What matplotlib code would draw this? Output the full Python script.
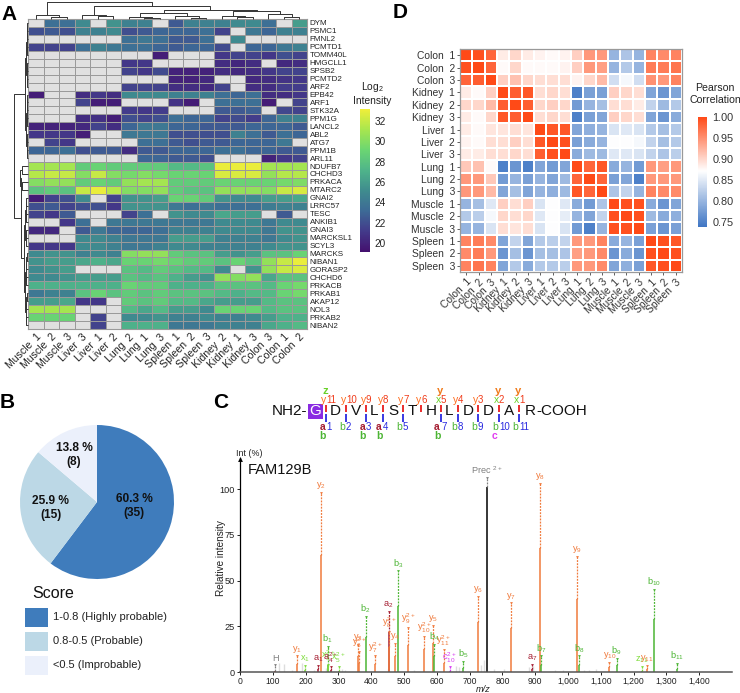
import numpy as np
import matplotlib
matplotlib.use('Agg')
import matplotlib.pyplot as plt
from matplotlib.colors import LinearSegmentedColormap, TwoSlopeNorm, Normalize
from matplotlib.patches import Rectangle
from matplotlib.cm import ScalarMappable

plt.rcParams['font.family'] = ['Liberation Sans', 'DejaVu Sans']
plt.rcParams['mathtext.default'] = 'regular'
plt.rcParams['mathtext.fontset'] = 'custom'
plt.rcParams['mathtext.rm'] = 'Liberation Sans'

W, H = 740, 693
n = np.nan

# panel A
a_cols = ['Muscle  1', 'Muscle  2', 'Muscle  3', 'Liver  3', 'Liver  1', 'Liver  2', 'Lung  2', 'Lung  1', 'Lung  3',
          'Spleen  1', 'Spleen  2', 'Spleen  3', 'Kidney  2', 'Kidney  1', 'Kidney  3', 'Colon  3', 'Colon  1', 'Colon  2']
a_rows = ['DYM', 'PSMC1', 'FMNL2', 'PCMTD1', 'TOMM40L', 'HMGCLL1', 'SPSB2', 'PCMTD2', 'ARF2', 'EPB42', 'ARF1', 'STK32A',
          'PPM1G', 'LANCL2', 'ABL2', 'ATG7', 'PPM1B', 'ARL11', 'NDUFB7', 'CHCHD3', 'PRKACA', 'MTARC2', 'GNAI2', 'LRRC57',
          'TESC', 'ANKIB1', 'GNAI3', 'MARCKSL1', 'SCYL3', 'MARCKS', 'NIBAN1', 'GORASP2', 'CHCHD6', 'PRKACB', 'PRKAB1',
          'AKAP12', 'NOL3', 'PRKAB2', 'NIBAN2']
a_vals = [
    [n, 23.5, 23.5, 25, n, 25.5, 24.5, 24.5, n, 22.5, 24.5, 24.5, 24.5, 25, 25, 23.5, n, 26],
    [22, 22.5, 22, 24.5, 24.5, 25, 22, 22.5, 23, 23, 23, 23.5, 21.5, n, 24, 23, 24.5, 24.5],
    [n, n, n, n, n, n, 23.5, 24, 23.5, 22.5, 22.5, 23.5, n, 25, n, n, n, n],
    [21.5, 21.5, 21.5, 23.5, 24.5, 24, 23.5, 23.5, 23, 22.5, 23, 23, 21.8, n, 23, 23, 24, 24.5],
    [n, n, n, n, n, n, n, n, 19.8, n, n, n, 21, 21.5, 21.5, 21, 22, 21.5],
    [n, n, n, n, n, n, 21, 21, n, n, n, n, 20.5, 20.2, 20.5, n, 20.3, 20.5],
    [n, n, n, n, n, n, 21.5, 21, 21.8, 20, 20, 20, 20.5, 20.3, 20.5, 21, 21.5, 21.5],
    [n, n, n, n, n, n, n, n, n, 20, 20, 20.3, n, n, 20.3, 20.5, 20.8, 21],
    [n, n, n, n, n, n, 21.5, 21.5, 21.5, 20.5, 20.5, 20.3, 21.5, n, 20.5, 20.5, 21.2, 21.2],
    [19.7, n, n, 20.5, 21, 20.5, 25, 25, 25, 24.5, 24.5, 24.5, 23.5, 23, 23.5, 20.5, 20.5, 21],
    [n, n, n, 21.5, 19.8, 19.8, n, n, n, 20.8, 19.7, n, 23.5, 23.5, 23.5, 19.7, n, 21.5],
    [n, n, n, n, n, n, 21.2, 21, 21.2, n, n, n, 22.5, 22.5, 22.8, n, 21.7, 21.5],
    [n, n, n, 20.5, 20.7, 19.8, 22, 21.5, 22, 23.5, 23, 23, 21.5, 21.8, 21.3, 23, 24.5, 24.5],
    [20, 20, 20, 20.3, 21.5, 20.5, 23, 24, 24, 23, 23, 22.5, 22.5, 22.5, 23, 23, 23, 22.5],
    [21, 21, 21, 19.8, n, n, 24, 24, 24, 22, 22, 22, 22, 24.5, 23.5, 22.5, 23.5, 23],
    [n, 21.5, 21, n, n, n, n, 23.5, 23.5, 22.5, 22, 22.5, 22.5, 23, 23, 23, 24, n],
    [23, 23, 23.5, 22, 22.5, 22.5, 20.5, 22.5, 22.5, 23, 23, 23, 23.5, 23.5, 23, 23, 22.5, 22.5],
    [n, n, n, n, n, n, n, 23, 23, 22.5, 22.5, 22, n, n, n, 20, 21, 21.5],
    [31, 31, 31, 28.5, 29, 28.5, 28.5, 28.5, 28.5, 27.5, 27.5, 28, 33, 33, 33, 31, 31, 31],
    [31.5, 32, 32, 30, 32, 30, 29.5, 30, 29.5, 29, 29, 29, 32.5, 32.5, 32.5, 30.5, 31.5, 31.5],
    [30, 30.5, 30.5, 28.5, 29, 28.5, 30.5, 31, 31, 28.5, 28.5, 28.5, 29, 29, 29, 29, 29.5, 29.8],
    [28, 28.5, 28, 32, 33, 31.5, 30, 30, 30.5, 28.5, 28, 28, 30.5, 30.5, 30.5, 30, 32, 32.5],
    [19.7, 21.5, 22, 25, n, 21.5, 25.5, 25.5, 26, 29, 29, 28.5, 25.5, 25, 25, 26, 26, 26.5],
    [22, 22.5, 21.5, 22, 22, 21, 25.5, 25.5, 25.5, 24, 23.5, 24, 23.5, 23.5, 23.5, 24.2, 24.5, 24.5],
    [21.5, 21, 22.5, n, n, n, 21.5, 23.5, n, 25.5, 25, 25, 26.5, 26, 26, n, 22.5, n],
    [n, n, 21, 23.5, n, 24, 24, 24, 24, 24, 24, 24, 25, 25, 25, 24, 25, 25],
    [20.3, 20.3, n, 22.5, 24, 23, 23, 23, 23.5, 24.5, 24.5, 24.5, 25, 25, 25, 24, 25.5, 25.5],
    [n, n, n, 25, 25, 24.5, 24, 24, 24, 26, 26, 26, 24.5, 24.5, 24.5, 24, 25, 25.5],
    [21, 21, 21, 25, 25, 24.5, 24, 24, 24.5, 25, 25, 24.5, 24.5, 24.5, 24.5, 25, 25.5, 25.5],
    [25, 25.5, 25.5, 24.5, 25, 24.5, 30, 30.5, 30.5, 28.5, 28, 28, 26, 25.5, 26, 28, 28, 29],
    [25.5, 26, 26, 26.5, 27, 26.5, 29, 29, 29.5, 29, 28.5, 28.5, 28, 29, 28, 30.5, 32, 33],
    [25, 25.5, 26, n, n, n, 28, 27.5, 28.5, 28, 27.5, 27.5, 25, n, 25.5, 30.5, 32, 32.5],
    [25, 25, 25.5, 26, 26, 26, 28, 27.5, 28, 27, 26, 25.5, 30.5, 30, 30.5, 26.5, 28, 28],
    [27, 27, 27, 27, 27, 27, 29, 28.5, 28.5, 27, 27, 27, 28, 28, 28, 27.5, 29, 29.5],
    [24, 24.5, 24.5, 28, 29, 28, 28.5, 28, 28.5, 28, 28, 28, 27.5, 27, 27.5, 27.5, 29, 29.5],
    [26, 26, 26.5, 21, 21, n, 28.5, 28, 28.5, 27.5, 27.5, 26.5, 26, 26, 26, 27.5, 28, 28],
    [31, 31, 31, n, n, n, 27.5, 26.5, 27.5, 26, 26, 25, 29, 29, 29, 27.5, 28, 28],
    [29, 29, 29, n, 21.5, n, 25, 25, 25.5, 24.5, 24.5, 25, 24.5, 24.5, 25, 26, 27, 27],
    [n, n, n, n, 21.5, n, 27, 27, 27, 24, 24, 24, 24.5, 24.5, 24.5, 26.5, 27, 27.5],
]
a_ticks = [20, 22, 24, 26, 28, 30, 32]
a_map_cols = ['#44106e', '#433a8a', '#3d6a96', '#3f8c8e', '#4fb48a', '#6bd672', '#a8e64e', '#f0ee3a']

# column tree of panel A: (merge height, left, right), leaves are column numbers
a_col_tree = (17.3,
              (4, 0, (2, 1, 2)),
              (13.5,
               (4, 3, (3, 4, 5)),
               (9.5,
                (6.5, (2.5, 6, (1.5, 7, 8)), (3, 9, (1.5, 10, 11))),
                (8.5, (3, 12, (1.8, 13, 14)), (5.5, 15, (2.5, 16, 17))))))

# panel B
b_vals = [60.3, 25.9, 13.8]
b_texts = ['60.3 %\n(35)', '25.9 %\n(15)', '13.8 %\n(8)']
b_cols = ['#3f7cbc', '#bcd8e6', '#ebf0fb']
b_legend = ['1-0.8 (Highly probable)', '0.8-0.5 (Probable)', '<0.5 (Improbable)']

# panel C
seq_letters = ['D', 'V', 'L', 'S', 'T', 'H', 'L', 'D', 'D', 'A', 'R']
peak_mz = [108, 174, 198, 239, 246, 267, 269, 276, 301, 359, 363, 383, 412, 453, 455, 474, 482, 513, 562, 587, 592, 621,
           639, 681, 725, 825, 754, 914, 918, 890, 1027, 1033, 1126, 1148, 1225, 1241, 1262, 1333]
peak_solid = [0.5, 4.5, 1, 1.5, 64, 4, 3, 1, 0.8, 9, 4.8, 19, 4.5, 22, 13.5, 9, 36, 15, 12.5, 16, 9, 5,
              0.5, 2, 27.5, 24, 101, 68, 4, 1.5, 40, 4, 2.5, 4, 0.8, 1.5, 29, 1.5]
peak_tip = [3.8, 8.5, 3.5, 3.3, 98, 13.5, 4, 3, 3, 15, 11, 30, 8.5, 33, 22, 15.5, 55, 24, 19, 25, 15, 12,
            3, 5.5, 41, 37.5, 106, 103, 8.5, 4, 63, 8.5, 5, 7, 3, 3.5, 45, 4.5]
peak_label = ['H', 'y$_{1}$', 'x$_{1}$', 'a$_{1}$', 'y$_{2}$', 'b$_{1}$', 'x$_{3}^{2+}$', 'a$_{4}^{2+}$', 'x$_{5}^{2+}$',
              'y$_{3}$', 'y$_{6}^{2+}$', 'b$_{2}$', 'y$_{7}^{2+}$', 'a$_{2}$', 'y$_{8}^{2+}$', 'y$_{4}$', 'b$_{3}$',
              'y$_{9}^{2+}$', 'y$_{10}^{2+}$', 'y$_{5}$', 'b$_{4}$', 'y$_{11}^{2+}$', 'c$_{10}^{2+}$', 'b$_{5}$',
              'y$_{6}$', 'y$_{7}$', 'Prec $^{2+}$', 'y$_{8}$', 'b$_{7}$', 'a$_{7}$', 'y$_{9}$', 'b$_{8}$', 'y$_{10}$',
              'b$_{9}$', 'z$_{11}$', 'y$_{11}$', 'b$_{10}$', 'b$_{11}$']
peak_kind = ['p', 'y', 'x', 'a', 'y', 'b', 'x', 'a', 'x', 'y', 'y', 'b', 'y', 'a', 'y', 'y', 'b', 'y', 'y', 'y', 'b', 'y',
             'c', 'b', 'y', 'y', 'p', 'y', 'b', 'a', 'y', 'b', 'y', 'b', 'x', 'y', 'b', 'b']
noise_mz = [120, 135, 160, 188, 197, 225, 262, 310, 320, 450, 530, 660, 668, 735, 745, 775, 805, 880, 892, 960, 985,
            1050, 1065, 1085]
noise_int = [5, 4.5, 1, 5, 2, 1, 2, 1.5, 1, 1.5, 1, 3.5, 3, 4, 6.5, 1.5, 1.5, 3, 3.5, 1, 1.2, 1, 1, 1.5]
c_xticks = list(range(0, 1500, 100))
c_yticks = [0, 25, 50, 75, 100]

# panel D
d_labels = ['Colon  1', 'Colon  2', 'Colon  3', 'Kidney  1', 'Kidney  2', 'Kidney  3', 'Liver  1', 'Liver  2', 'Liver  3',
            'Lung  1', 'Lung  2', 'Lung  3', 'Muscle  1', 'Muscle  2', 'Muscle  3', 'Spleen  1', 'Spleen  2', 'Spleen  3']
d_vals = [
    [1.0, .995, .98, .885, .90, .885, .88, .875, .88, .905, .945, .945, .80, .815, .80, .96, .955, .96],
    [.995, 1.0, .98, .875, .90, .875, .875, .875, .88, .905, .945, .94, .80, .82, .80, .965, .965, .97],
    [.98, .985, 1.0, .905, .915, .90, .895, .895, .895, .88, .90, .92, .84, .865, .84, .95, .945, .96],
    [.885, .875, .905, 1.0, .985, .99, .895, .90, .895, .75, .78, .78, .905, .90, .895, .785, .77, .785],
    [.90, .90, .92, .985, 1.0, .985, .90, .905, .90, .775, .80, .81, .895, .895, .885, .83, .805, .82],
    [.885, .875, .90, .99, .985, 1.0, .895, .90, .895, .75, .78, .785, .905, .90, .895, .785, .77, .79],
    [.885, .875, .89, .89, .895, .89, 1.0, .99, .99, .785, .795, .80, .845, .85, .845, .82, .81, .82],
    [.88, .875, .895, .895, .905, .895, .99, 1.0, .995, .78, .79, .80, .87, .87, .865, .83, .81, .82],
    [.885, .885, .895, .895, .90, .895, .985, .995, 1.0, .79, .805, .805, .85, .85, .845, .83, .815, .825],
    [.91, .915, .875, .75, .77, .75, .785, .775, .785, 1.0, .98, .99, .79, .80, .775, .945, .94, .945],
    [.945, .945, .91, .775, .80, .78, .80, .785, .805, .98, 1.0, .98, .78, .785, .75, .945, .945, .945],
    [.945, .945, .92, .785, .81, .785, .80, .795, .805, .99, .98, 1.0, .815, .83, .80, .96, .955, .955],
    [.80, .81, .85, .905, .895, .905, .845, .87, .85, .79, .775, .815, 1.0, .995, .995, .79, .77, .785],
    [.82, .825, .865, .90, .895, .90, .85, .87, .855, .80, .785, .83, .995, 1.0, .995, .805, .79, .795],
    [.80, .80, .845, .895, .89, .895, .845, .87, .845, .775, .75, .80, .995, .995, 1.0, .78, .77, .78],
    [.96, .965, .955, .785, .83, .785, .82, .825, .83, .945, .945, .96, .79, .80, .78, 1.0, .995, .99],
    [.955, .965, .945, .77, .81, .77, .81, .81, .815, .94, .945, .955, .77, .79, .77, .995, 1.0, .995],
    [.96, .97, .96, .785, .82, .79, .82, .82, .825, .945, .945, .955, .785, .795, .78, .99, .995, 1.0],
]
d_ticks = [0.75, 0.80, 0.85, 0.90, 0.95, 1.00]


def px_axes(fig, x0, y0, x1, y1):
    # rectangle given in image pixels, y going down
    return fig.add_axes([x0 / W, 1 - y1 / H, (x1 - x0) / W, (y1 - y0) / H])


def split_tree(lo, hi, h):
    if hi - lo == 1:
        return lo
    mid = (lo + hi + 1) // 2
    return (h, split_tree(lo, mid, h * 0.68), split_tree(mid, hi, h * 0.68))


def draw_tree(ax, node, pos0, step, base, horizontal=True):
    # returns centre position and height of the node
    if not isinstance(node, tuple):
        return pos0 + (node + 0.5) * step, 0
    h, left, right = node
    p1, h1 = draw_tree(ax, left, pos0, step, base, horizontal)
    p2, h2 = draw_tree(ax, right, pos0, step, base, horizontal)
    xs = [p1, p1, p2, p2]
    ys = [base - h1, base - h, base - h, base - h2]
    if horizontal:
        ax.plot(xs, ys, color='#333333', lw=0.7, solid_capstyle='butt')
    else:
        ax.plot(ys, xs, color='#333333', lw=0.7, solid_capstyle='butt')
    return (p1 + p2) / 2, h


fig = plt.figure(figsize=(W / 100, H / 100), dpi=100)

# --- A heatmap ---
ax = px_axes(fig, 28, 19, 307, 329)
vir = LinearSegmentedColormap.from_list('soft_viridis', a_map_cols)
vir.set_bad('#e0e0e0')
a_arr = np.ma.masked_invalid(np.array(a_vals))
a_norm = Normalize(19.1, 33.2)
ax.pcolormesh(a_arr, cmap=vir, norm=a_norm, edgecolors='#9a9a9a', linewidth=0.7)
ax.set_ylim(len(a_rows), 0)
ax.set_xticks(np.arange(len(a_cols)) + 0.5)
ax.set_xticklabels(a_cols, rotation=45, ha='right', va='top', rotation_mode='anchor', fontsize=7.6, color='#222222')
ax.yaxis.tick_right()
ax.set_yticks(np.arange(len(a_rows)) + 0.5)
ax.set_yticklabels(a_rows, fontsize=5.8, color='#222222')
ax.tick_params(length=0, pad=2)
for s in ax.spines.values():
    s.set_edgecolor('#9a9a9a')
    s.set_linewidth(0.8)

cax = px_axes(fig, 360, 109, 370, 252)
cb = fig.colorbar(ScalarMappable(norm=a_norm, cmap=vir), cax=cax, ticks=a_ticks)
cb.outline.set_visible(False)
cb.ax.tick_params(length=0, labelsize=7.2, pad=3, labelcolor='#222222')

# --- B pie ---
ax = px_axes(fig, 20, 425, 174, 579)
ax.pie(b_vals, colors=b_cols, startangle=90, counterclock=False, radius=1)
ax.set_xlim(-1, 1)
ax.set_ylim(-1, 1)

# --- C spectrum ---
ax = px_axes(fig, 240, 458, 732, 672)
kind_col = {'y': '#f07a3c', 'b': '#4cb534', 'x': '#7fdc3c', 'a': '#a51e32', 'c': '#d63cf0', 'p': '#808080'}
ax.vlines(noise_mz, 0, noise_int, color='#dddddd', lw=1)
for mz, solid, tip, lab, kind in zip(peak_mz, peak_solid, peak_tip, peak_label, peak_kind):
    col = kind_col[kind]
    solid_col = 'black' if lab.startswith('Prec') else ('#d01818' if lab == 'H' else col)
    ax.vlines(mz, 0, solid, color=solid_col, lw=1.1)
    ax.vlines(mz, solid, tip, color=col, lw=0.9, linestyles=(0, (1.5, 1)))
    ax.plot(mz, tip, marker='v', ms=2, color=col, mew=0)
    ax.text(mz, tip + 1, lab, color=col, ha='center', va='bottom', fontsize=6.6)
ax.set_xlim(0, 1500)
ax.set_ylim(0, 117)
ax.set_xticks(c_xticks)
ax.set_xticklabels([f'{v:,}' for v in c_xticks], fontsize=6.2, color='#222222')
ax.set_yticks(c_yticks)
ax.set_yticklabels([str(v) for v in c_yticks], fontsize=6.6, color='#222222')
ax.tick_params(length=2, width=0.6, pad=1.5)
ax.spines[['top', 'right']].set_visible(False)
ax.spines['left'].set_linewidth(0.9)
ax.spines['bottom'].set_linewidth(1.1)
ax.spines['bottom'].set_color('#555555')
ax.patch.set_alpha(0)

# --- D correlation ---
ax = px_axes(fig, 460, 49, 682, 272)
blue_red = LinearSegmentedColormap.from_list('br', ['#3f76c4', '#ffffff', '#ff4a17'])
d_norm = TwoSlopeNorm(vmin=0.739, vcenter=0.872, vmax=1.0)
ax.pcolormesh(np.array(d_vals), cmap=blue_red, norm=d_norm, edgecolors='#ffffff', linewidth=0.25)
ax.set_ylim(len(d_labels), 0)
ax.set_xticks(np.arange(len(d_labels)) + 0.5)
ax.set_xticklabels(d_labels, rotation=45, ha='right', va='top', rotation_mode='anchor', fontsize=7.4, color='#333333')
ax.set_yticks(np.arange(len(d_labels)) + 0.5)
ax.set_yticklabels(d_labels, fontsize=7.4, color='#333333')
ax.tick_params(length=2, width=0.6, pad=1.5, color='#444444')
for s in ax.spines.values():
    s.set_edgecolor('#999999')
    s.set_linewidth(0.9)

cax = px_axes(fig, 698, 117, 707, 227)
cb = fig.colorbar(ScalarMappable(norm=d_norm, cmap=blue_red), cax=cax, ticks=d_ticks)
cb.ax.set_yscale('linear')
cb.outline.set_visible(False)
cb.ax.set_yticks(d_ticks)
cb.ax.set_yticklabels([f'{v:.2f}' for v in d_ticks])
cb.ax.tick_params(length=0, labelsize=7.8, pad=4, labelcolor='#333333')

# --- pixel overlay for dendrograms, sequence, legend, panel letters ---
ov = fig.add_axes([0, 0, 1, 1], zorder=10)
ov.set_xlim(0, W)
ov.set_ylim(H, 0)
ov.axis('off')

draw_tree(ov, a_col_tree, 28, 279 / 18, 19, True)
row_tree = (14,
            split_tree(0, 18, 3.2),
            (7, split_tree(18, 22, 8.5),
             (4.5, split_tree(22, 29, 3.5), split_tree(29, 39, 3.5))))
# row tree grows to the left of the heatmap
draw_tree(ov, row_tree, 19, 310 / 39, 28, False)

ov.text(372, 93, 'Log$_{2}$\nIntensity', ha='center', va='center', fontsize=7.4, color='#222222', linespacing=1.15)
ov.text(715, 94, 'Pearson\nCorrelation', ha='center', va='center', fontsize=7.6, color='#222222', linespacing=1.15)

for txt, (tx, ty) in zip(b_texts, [(134, 506), (51, 508), (74, 455)]):
    ov.text(tx, ty, txt, ha='center', va='center', fontsize=8.6, fontweight='bold', color='#111111', linespacing=1.2)
ov.text(32, 594, 'Score', fontsize=11.5, va='center', color='#111111')
for col, lab, ty in zip(b_cols, b_legend, [617, 641, 665]):
    ov.add_patch(Rectangle((25, ty - 9.5), 23, 19, color=col, lw=0))
    ov.text(53, ty, lab, fontsize=8, va='center', color='#222222')

for letter, lx, ly in [('A', 1, 14), ('B', 0, 403), ('C', 213, 403), ('D', 393, 13)]:
    ov.text(lx, ly, letter, fontsize=15, fontweight='bold', va='center', color='black')

# peptide sequence
ov.add_patch(Rectangle((308, 404), 15, 14.5, color='#8a2be2', lw=0))
ov.text(272, 411, 'NH2-', fontsize=11, ha='left', va='center', color='#111111')
ov.text(315.5, 411, 'G', fontsize=11, ha='center', va='center', color='white')
seq_x = [335, 356, 374, 393, 412, 431, 449, 468, 488, 509, 530.5]
for ch, sx in zip(seq_letters, seq_x):
    ov.text(sx, 411, ch, fontsize=11, ha='center', va='center', color='#111111')
ov.text(536, 411, '-COOH', fontsize=11, ha='left', va='center', color='#111111')
cut_x = [326, 346, 366, 383, 403, 421, 441, 458, 478, 499, 519]
red_lab = ['y11', 'y10', 'y9', 'y8', 'y7', 'y6', 'x5', 'y4', 'y3', 'x2', 'x1']
blue_lab = ['a1', 'b2', 'a3', 'a4', 'b5', '', 'a7', 'b8', 'b9', 'b10', 'b11']
under = ['b', '', 'b', 'b', '', '', 'b', '', '', 'c', '']
over = ['z', '', '', '', '', '', 'y', '', '', 'y', 'y']
low_col = {'a': '#a51e32', 'b': '#4cb534'}
for cx, rl, bl, ul, ol in zip(cut_x, red_lab, blue_lab, under, over):
    ov.plot([cx, cx], [405, 412], color='#e81c1c', lw=1.3, solid_capstyle='butt')
    if bl:
        ov.plot([cx, cx], [414, 422], color='#2a2ae0', lw=1.3, solid_capstyle='butt')
        ov.text(cx - 1, 427, bl[0], fontsize=7.5, fontweight='bold' if bl[0] == 'a' else 'normal',
                color=low_col[bl[0]], ha='right', va='center')
        ov.text(cx, 427, bl[1:], fontsize=7, color='#2a2ae0', ha='left', va='center')
    ov.text(cx, 400, rl[0], fontsize=7.5, ha='right', va='center', color='#ff6a1a' if rl[0] == 'y' else '#6ad12a')
    ov.text(cx, 400, rl[1:], fontsize=7, ha='left', va='center', color='#f03a1a')
    if ul:
        ov.text(cx - 4, 436, ul, fontsize=7.5, fontweight='bold', ha='center', va='center',
                color='#e03cf0' if ul == 'c' else '#4cb534')
    if ol:
        ov.text(cx - 1, 391, ol, fontsize=8, fontweight='bold', ha='center', va='center',
                color='#6ad12a' if ol == 'z' else '#f07a1a')

ov.text(248, 470, 'FAM129B', fontsize=10.5, va='center', color='#111111')
ov.text(236, 453, 'Int (%)', fontsize=6.4, va='center', color='#222222')
ov.plot(240, 459, marker='^', ms=3.5, color='black', mew=0)
ov.text(483, 689, 'm/z', fontsize=6.6, style='italic', ha='center', va='center', color='#222222')
ov.text(221, 558, 'Relative intensity', fontsize=7.2, rotation=90, ha='center', va='center', color='#222222')

fig.savefig('out.png', dpi=100)
